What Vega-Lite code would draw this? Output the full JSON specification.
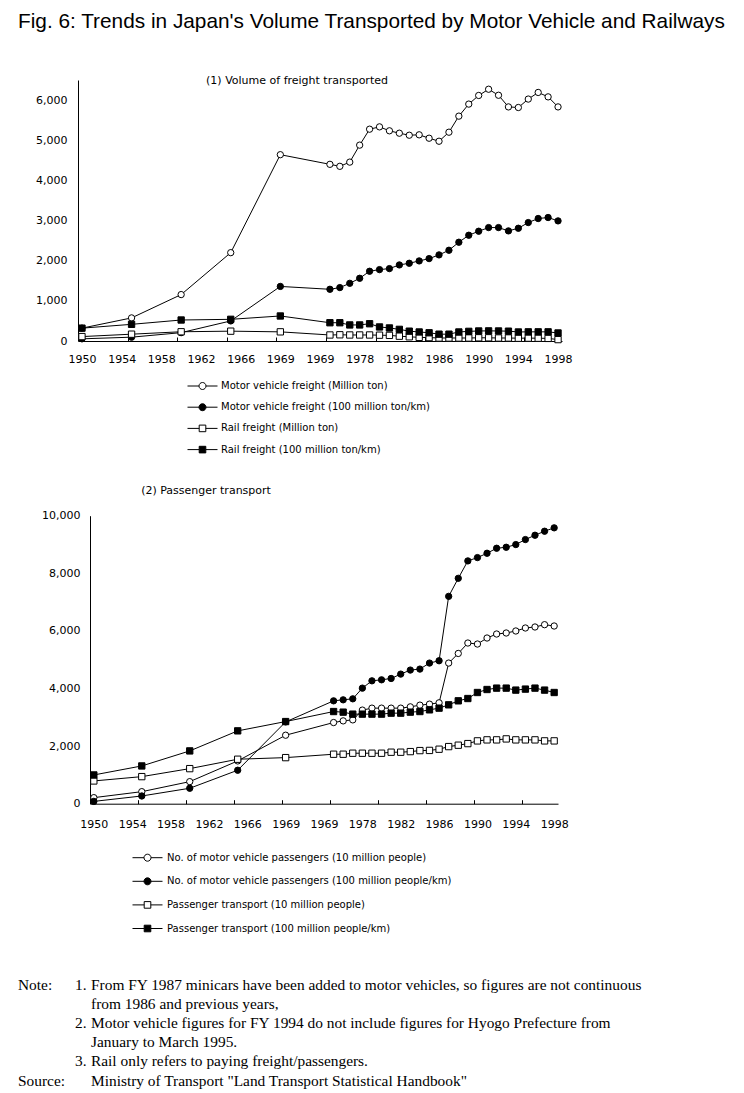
{
  "$schema": "https://vega.github.io/schema/vega-lite/v6.json",
  "padding": {"left": 18, "top": 10, "right": 5, "bottom": 5},
  "background": "white",
  "title": {"text": "Fig. 6: Trends in Japan's Volume Transported by Motor Vehicle and Railways", "anchor": "start", "frame": "bounds", "font": "Liberation Sans", "fontSize": 20.8, "fontWeight": "normal", "color": "black", "offset": 42.3},
  "config": {"view": {"stroke": null}, "font": "DejaVu Sans"},
  "spacing": 29.7,
  "datasets": {
    "freight": [
      {"year": 1950, "series": "Motor vehicle freight (Million ton)", "value": 320},
      {"year": 1955, "series": "Motor vehicle freight (Million ton)", "value": 575},
      {"year": 1960, "series": "Motor vehicle freight (Million ton)", "value": 1156},
      {"year": 1965, "series": "Motor vehicle freight (Million ton)", "value": 2200},
      {"year": 1970, "series": "Motor vehicle freight (Million ton)", "value": 4640},
      {"year": 1975, "series": "Motor vehicle freight (Million ton)", "value": 4400},
      {"year": 1976, "series": "Motor vehicle freight (Million ton)", "value": 4350},
      {"year": 1977, "series": "Motor vehicle freight (Million ton)", "value": 4455},
      {"year": 1978, "series": "Motor vehicle freight (Million ton)", "value": 4878},
      {"year": 1979, "series": "Motor vehicle freight (Million ton)", "value": 5275},
      {"year": 1980, "series": "Motor vehicle freight (Million ton)", "value": 5333},
      {"year": 1981, "series": "Motor vehicle freight (Million ton)", "value": 5235},
      {"year": 1982, "series": "Motor vehicle freight (Million ton)", "value": 5175},
      {"year": 1983, "series": "Motor vehicle freight (Million ton)", "value": 5125},
      {"year": 1984, "series": "Motor vehicle freight (Million ton)", "value": 5135},
      {"year": 1985, "series": "Motor vehicle freight (Million ton)", "value": 5050},
      {"year": 1986, "series": "Motor vehicle freight (Million ton)", "value": 4975},
      {"year": 1987, "series": "Motor vehicle freight (Million ton)", "value": 5200},
      {"year": 1988, "series": "Motor vehicle freight (Million ton)", "value": 5600},
      {"year": 1989, "series": "Motor vehicle freight (Million ton)", "value": 5900},
      {"year": 1990, "series": "Motor vehicle freight (Million ton)", "value": 6115},
      {"year": 1991, "series": "Motor vehicle freight (Million ton)", "value": 6270},
      {"year": 1992, "series": "Motor vehicle freight (Million ton)", "value": 6120},
      {"year": 1993, "series": "Motor vehicle freight (Million ton)", "value": 5830},
      {"year": 1994, "series": "Motor vehicle freight (Million ton)", "value": 5815},
      {"year": 1995, "series": "Motor vehicle freight (Million ton)", "value": 6025},
      {"year": 1996, "series": "Motor vehicle freight (Million ton)", "value": 6190},
      {"year": 1997, "series": "Motor vehicle freight (Million ton)", "value": 6080},
      {"year": 1998, "series": "Motor vehicle freight (Million ton)", "value": 5830},
      {"year": 1950, "series": "Motor vehicle freight (100 million ton/km)", "value": 54},
      {"year": 1955, "series": "Motor vehicle freight (100 million ton/km)", "value": 95},
      {"year": 1960, "series": "Motor vehicle freight (100 million ton/km)", "value": 208},
      {"year": 1965, "series": "Motor vehicle freight (100 million ton/km)", "value": 500},
      {"year": 1970, "series": "Motor vehicle freight (100 million ton/km)", "value": 1359},
      {"year": 1975, "series": "Motor vehicle freight (100 million ton/km)", "value": 1288},
      {"year": 1976, "series": "Motor vehicle freight (100 million ton/km)", "value": 1330},
      {"year": 1977, "series": "Motor vehicle freight (100 million ton/km)", "value": 1437},
      {"year": 1978, "series": "Motor vehicle freight (100 million ton/km)", "value": 1562},
      {"year": 1979, "series": "Motor vehicle freight (100 million ton/km)", "value": 1737},
      {"year": 1980, "series": "Motor vehicle freight (100 million ton/km)", "value": 1778},
      {"year": 1981, "series": "Motor vehicle freight (100 million ton/km)", "value": 1803},
      {"year": 1982, "series": "Motor vehicle freight (100 million ton/km)", "value": 1894},
      {"year": 1983, "series": "Motor vehicle freight (100 million ton/km)", "value": 1936},
      {"year": 1984, "series": "Motor vehicle freight (100 million ton/km)", "value": 1994},
      {"year": 1985, "series": "Motor vehicle freight (100 million ton/km)", "value": 2052},
      {"year": 1986, "series": "Motor vehicle freight (100 million ton/km)", "value": 2144},
      {"year": 1987, "series": "Motor vehicle freight (100 million ton/km)", "value": 2260},
      {"year": 1988, "series": "Motor vehicle freight (100 million ton/km)", "value": 2460},
      {"year": 1989, "series": "Motor vehicle freight (100 million ton/km)", "value": 2634},
      {"year": 1990, "series": "Motor vehicle freight (100 million ton/km)", "value": 2734},
      {"year": 1991, "series": "Motor vehicle freight (100 million ton/km)", "value": 2825},
      {"year": 1992, "series": "Motor vehicle freight (100 million ton/km)", "value": 2825},
      {"year": 1993, "series": "Motor vehicle freight (100 million ton/km)", "value": 2742},
      {"year": 1994, "series": "Motor vehicle freight (100 million ton/km)", "value": 2808},
      {"year": 1995, "series": "Motor vehicle freight (100 million ton/km)", "value": 2950},
      {"year": 1996, "series": "Motor vehicle freight (100 million ton/km)", "value": 3050},
      {"year": 1997, "series": "Motor vehicle freight (100 million ton/km)", "value": 3075},
      {"year": 1998, "series": "Motor vehicle freight (100 million ton/km)", "value": 2991},
      {"year": 1950, "series": "Rail freight (Million ton)", "value": 110},
      {"year": 1955, "series": "Rail freight (Million ton)", "value": 170},
      {"year": 1960, "series": "Rail freight (Million ton)", "value": 230},
      {"year": 1965, "series": "Rail freight (Million ton)", "value": 245},
      {"year": 1970, "series": "Rail freight (Million ton)", "value": 228},
      {"year": 1975, "series": "Rail freight (Million ton)", "value": 150},
      {"year": 1976, "series": "Rail freight (Million ton)", "value": 155},
      {"year": 1977, "series": "Rail freight (Million ton)", "value": 150},
      {"year": 1978, "series": "Rail freight (Million ton)", "value": 150},
      {"year": 1979, "series": "Rail freight (Million ton)", "value": 150},
      {"year": 1980, "series": "Rail freight (Million ton)", "value": 145},
      {"year": 1981, "series": "Rail freight (Million ton)", "value": 140},
      {"year": 1982, "series": "Rail freight (Million ton)", "value": 120},
      {"year": 1983, "series": "Rail freight (Million ton)", "value": 105},
      {"year": 1984, "series": "Rail freight (Million ton)", "value": 90},
      {"year": 1985, "series": "Rail freight (Million ton)", "value": 85},
      {"year": 1986, "series": "Rail freight (Million ton)", "value": 75},
      {"year": 1987, "series": "Rail freight (Million ton)", "value": 75},
      {"year": 1988, "series": "Rail freight (Million ton)", "value": 75},
      {"year": 1989, "series": "Rail freight (Million ton)", "value": 75},
      {"year": 1990, "series": "Rail freight (Million ton)", "value": 80},
      {"year": 1991, "series": "Rail freight (Million ton)", "value": 80},
      {"year": 1992, "series": "Rail freight (Million ton)", "value": 75},
      {"year": 1993, "series": "Rail freight (Million ton)", "value": 75},
      {"year": 1994, "series": "Rail freight (Million ton)", "value": 70},
      {"year": 1995, "series": "Rail freight (Million ton)", "value": 72},
      {"year": 1996, "series": "Rail freight (Million ton)", "value": 70},
      {"year": 1997, "series": "Rail freight (Million ton)", "value": 65},
      {"year": 1998, "series": "Rail freight (Million ton)", "value": 35},
      {"year": 1950, "series": "Rail freight (100 million ton/km)", "value": 320},
      {"year": 1955, "series": "Rail freight (100 million ton/km)", "value": 415},
      {"year": 1960, "series": "Rail freight (100 million ton/km)", "value": 523},
      {"year": 1965, "series": "Rail freight (100 million ton/km)", "value": 540},
      {"year": 1970, "series": "Rail freight (100 million ton/km)", "value": 623},
      {"year": 1975, "series": "Rail freight (100 million ton/km)", "value": 455},
      {"year": 1976, "series": "Rail freight (100 million ton/km)", "value": 455},
      {"year": 1977, "series": "Rail freight (100 million ton/km)", "value": 400},
      {"year": 1978, "series": "Rail freight (100 million ton/km)", "value": 400},
      {"year": 1979, "series": "Rail freight (100 million ton/km)", "value": 430},
      {"year": 1980, "series": "Rail freight (100 million ton/km)", "value": 350},
      {"year": 1981, "series": "Rail freight (100 million ton/km)", "value": 325},
      {"year": 1982, "series": "Rail freight (100 million ton/km)", "value": 290},
      {"year": 1983, "series": "Rail freight (100 million ton/km)", "value": 245},
      {"year": 1984, "series": "Rail freight (100 million ton/km)", "value": 225},
      {"year": 1985, "series": "Rail freight (100 million ton/km)", "value": 205},
      {"year": 1986, "series": "Rail freight (100 million ton/km)", "value": 170},
      {"year": 1987, "series": "Rail freight (100 million ton/km)", "value": 170},
      {"year": 1988, "series": "Rail freight (100 million ton/km)", "value": 225},
      {"year": 1989, "series": "Rail freight (100 million ton/km)", "value": 240},
      {"year": 1990, "series": "Rail freight (100 million ton/km)", "value": 250},
      {"year": 1991, "series": "Rail freight (100 million ton/km)", "value": 252},
      {"year": 1992, "series": "Rail freight (100 million ton/km)", "value": 250},
      {"year": 1993, "series": "Rail freight (100 million ton/km)", "value": 245},
      {"year": 1994, "series": "Rail freight (100 million ton/km)", "value": 225},
      {"year": 1995, "series": "Rail freight (100 million ton/km)", "value": 228},
      {"year": 1996, "series": "Rail freight (100 million ton/km)", "value": 228},
      {"year": 1997, "series": "Rail freight (100 million ton/km)", "value": 228},
      {"year": 1998, "series": "Rail freight (100 million ton/km)", "value": 200}
    ],
    "passenger": [
      {"year": 1950, "series": "No. of motor vehicle passengers (10 million people)", "value": 210},
      {"year": 1955, "series": "No. of motor vehicle passengers (10 million people)", "value": 418},
      {"year": 1960, "series": "No. of motor vehicle passengers (10 million people)", "value": 766},
      {"year": 1965, "series": "No. of motor vehicle passengers (10 million people)", "value": 1485},
      {"year": 1970, "series": "No. of motor vehicle passengers (10 million people)", "value": 2378},
      {"year": 1975, "series": "No. of motor vehicle passengers (10 million people)", "value": 2818},
      {"year": 1976, "series": "No. of motor vehicle passengers (10 million people)", "value": 2876},
      {"year": 1977, "series": "No. of motor vehicle passengers (10 million people)", "value": 2911},
      {"year": 1978, "series": "No. of motor vehicle passengers (10 million people)", "value": 3250},
      {"year": 1979, "series": "No. of motor vehicle passengers (10 million people)", "value": 3318},
      {"year": 1980, "series": "No. of motor vehicle passengers (10 million people)", "value": 3318},
      {"year": 1981, "series": "No. of motor vehicle passengers (10 million people)", "value": 3318},
      {"year": 1982, "series": "No. of motor vehicle passengers (10 million people)", "value": 3318},
      {"year": 1983, "series": "No. of motor vehicle passengers (10 million people)", "value": 3363},
      {"year": 1984, "series": "No. of motor vehicle passengers (10 million people)", "value": 3422},
      {"year": 1985, "series": "No. of motor vehicle passengers (10 million people)", "value": 3457},
      {"year": 1986, "series": "No. of motor vehicle passengers (10 million people)", "value": 3503},
      {"year": 1987, "series": "No. of motor vehicle passengers (10 million people)", "value": 4883},
      {"year": 1988, "series": "No. of motor vehicle passengers (10 million people)", "value": 5217},
      {"year": 1989, "series": "No. of motor vehicle passengers (10 million people)", "value": 5579},
      {"year": 1990, "series": "No. of motor vehicle passengers (10 million people)", "value": 5544},
      {"year": 1991, "series": "No. of motor vehicle passengers (10 million people)", "value": 5753},
      {"year": 1992, "series": "No. of motor vehicle passengers (10 million people)", "value": 5892},
      {"year": 1993, "series": "No. of motor vehicle passengers (10 million people)", "value": 5927},
      {"year": 1994, "series": "No. of motor vehicle passengers (10 million people)", "value": 5997},
      {"year": 1995, "series": "No. of motor vehicle passengers (10 million people)", "value": 6101},
      {"year": 1996, "series": "No. of motor vehicle passengers (10 million people)", "value": 6136},
      {"year": 1997, "series": "No. of motor vehicle passengers (10 million people)", "value": 6216},
      {"year": 1998, "series": "No. of motor vehicle passengers (10 million people)", "value": 6170},
      {"year": 1950, "series": "No. of motor vehicle passengers (100 million people/km)", "value": 80},
      {"year": 1955, "series": "No. of motor vehicle passengers (100 million people/km)", "value": 268},
      {"year": 1960, "series": "No. of motor vehicle passengers (100 million people/km)", "value": 536},
      {"year": 1965, "series": "No. of motor vehicle passengers (100 million people/km)", "value": 1162},
      {"year": 1970, "series": "No. of motor vehicle passengers (100 million people/km)", "value": 2840},
      {"year": 1975, "series": "No. of motor vehicle passengers (100 million people/km)", "value": 3572},
      {"year": 1976, "series": "No. of motor vehicle passengers (100 million people/km)", "value": 3607},
      {"year": 1977, "series": "No. of motor vehicle passengers (100 million people/km)", "value": 3642},
      {"year": 1978, "series": "No. of motor vehicle passengers (100 million people/km)", "value": 4013},
      {"year": 1979, "series": "No. of motor vehicle passengers (100 million people/km)", "value": 4267},
      {"year": 1980, "series": "No. of motor vehicle passengers (100 million people/km)", "value": 4302},
      {"year": 1981, "series": "No. of motor vehicle passengers (100 million people/km)", "value": 4348},
      {"year": 1982, "series": "No. of motor vehicle passengers (100 million people/km)", "value": 4500},
      {"year": 1983, "series": "No. of motor vehicle passengers (100 million people/km)", "value": 4640},
      {"year": 1984, "series": "No. of motor vehicle passengers (100 million people/km)", "value": 4674},
      {"year": 1985, "series": "No. of motor vehicle passengers (100 million people/km)", "value": 4883},
      {"year": 1986, "series": "No. of motor vehicle passengers (100 million people/km)", "value": 4963},
      {"year": 1987, "series": "No. of motor vehicle passengers (100 million people/km)", "value": 7200},
      {"year": 1988, "series": "No. of motor vehicle passengers (100 million people/km)", "value": 7826},
      {"year": 1989, "series": "No. of motor vehicle passengers (100 million people/km)", "value": 8430},
      {"year": 1990, "series": "No. of motor vehicle passengers (100 million people/km)", "value": 8546},
      {"year": 1991, "series": "No. of motor vehicle passengers (100 million people/km)", "value": 8696},
      {"year": 1992, "series": "No. of motor vehicle passengers (100 million people/km)", "value": 8870},
      {"year": 1993, "series": "No. of motor vehicle passengers (100 million people/km)", "value": 8904},
      {"year": 1994, "series": "No. of motor vehicle passengers (100 million people/km)", "value": 8998},
      {"year": 1995, "series": "No. of motor vehicle passengers (100 million people/km)", "value": 9172},
      {"year": 1996, "series": "No. of motor vehicle passengers (100 million people/km)", "value": 9322},
      {"year": 1997, "series": "No. of motor vehicle passengers (100 million people/km)", "value": 9461},
      {"year": 1998, "series": "No. of motor vehicle passengers (100 million people/km)", "value": 9579},
      {"year": 1950, "series": "Passenger transport (10 million people)", "value": 790},
      {"year": 1955, "series": "Passenger transport (10 million people)", "value": 940},
      {"year": 1960, "series": "Passenger transport (10 million people)", "value": 1218},
      {"year": 1965, "series": "Passenger transport (10 million people)", "value": 1544},
      {"year": 1970, "series": "Passenger transport (10 million people)", "value": 1600},
      {"year": 1975, "series": "Passenger transport (10 million people)", "value": 1718},
      {"year": 1976, "series": "Passenger transport (10 million people)", "value": 1718},
      {"year": 1977, "series": "Passenger transport (10 million people)", "value": 1753},
      {"year": 1978, "series": "Passenger transport (10 million people)", "value": 1753},
      {"year": 1979, "series": "Passenger transport (10 million people)", "value": 1753},
      {"year": 1980, "series": "Passenger transport (10 million people)", "value": 1753},
      {"year": 1981, "series": "Passenger transport (10 million people)", "value": 1788},
      {"year": 1982, "series": "Passenger transport (10 million people)", "value": 1788},
      {"year": 1983, "series": "Passenger transport (10 million people)", "value": 1809},
      {"year": 1984, "series": "Passenger transport (10 million people)", "value": 1844},
      {"year": 1985, "series": "Passenger transport (10 million people)", "value": 1850},
      {"year": 1986, "series": "Passenger transport (10 million people)", "value": 1892},
      {"year": 1987, "series": "Passenger transport (10 million people)", "value": 1983},
      {"year": 1988, "series": "Passenger transport (10 million people)", "value": 2031},
      {"year": 1989, "series": "Passenger transport (10 million people)", "value": 2087},
      {"year": 1990, "series": "Passenger transport (10 million people)", "value": 2181},
      {"year": 1991, "series": "Passenger transport (10 million people)", "value": 2216},
      {"year": 1992, "series": "Passenger transport (10 million people)", "value": 2216},
      {"year": 1993, "series": "Passenger transport (10 million people)", "value": 2250},
      {"year": 1994, "series": "Passenger transport (10 million people)", "value": 2216},
      {"year": 1995, "series": "Passenger transport (10 million people)", "value": 2216},
      {"year": 1996, "series": "Passenger transport (10 million people)", "value": 2216},
      {"year": 1997, "series": "Passenger transport (10 million people)", "value": 2181},
      {"year": 1998, "series": "Passenger transport (10 million people)", "value": 2181},
      {"year": 1950, "series": "Passenger transport (100 million people/km)", "value": 998},
      {"year": 1955, "series": "Passenger transport (100 million people/km)", "value": 1311},
      {"year": 1960, "series": "Passenger transport (100 million people/km)", "value": 1833},
      {"year": 1965, "series": "Passenger transport (100 million people/km)", "value": 2529},
      {"year": 1970, "series": "Passenger transport (100 million people/km)", "value": 2852},
      {"year": 1975, "series": "Passenger transport (100 million people/km)", "value": 3200},
      {"year": 1976, "series": "Passenger transport (100 million people/km)", "value": 3179},
      {"year": 1977, "series": "Passenger transport (100 million people/km)", "value": 3110},
      {"year": 1978, "series": "Passenger transport (100 million people/km)", "value": 3110},
      {"year": 1979, "series": "Passenger transport (100 million people/km)", "value": 3110},
      {"year": 1980, "series": "Passenger transport (100 million people/km)", "value": 3110},
      {"year": 1981, "series": "Passenger transport (100 million people/km)", "value": 3144},
      {"year": 1982, "series": "Passenger transport (100 million people/km)", "value": 3144},
      {"year": 1983, "series": "Passenger transport (100 million people/km)", "value": 3179},
      {"year": 1984, "series": "Passenger transport (100 million people/km)", "value": 3200},
      {"year": 1985, "series": "Passenger transport (100 million people/km)", "value": 3259},
      {"year": 1986, "series": "Passenger transport (100 million people/km)", "value": 3318},
      {"year": 1987, "series": "Passenger transport (100 million people/km)", "value": 3433},
      {"year": 1988, "series": "Passenger transport (100 million people/km)", "value": 3572},
      {"year": 1989, "series": "Passenger transport (100 million people/km)", "value": 3652},
      {"year": 1990, "series": "Passenger transport (100 million people/km)", "value": 3861},
      {"year": 1991, "series": "Passenger transport (100 million people/km)", "value": 3965},
      {"year": 1992, "series": "Passenger transport (100 million people/km)", "value": 4013},
      {"year": 1993, "series": "Passenger transport (100 million people/km)", "value": 4013},
      {"year": 1994, "series": "Passenger transport (100 million people/km)", "value": 3944},
      {"year": 1995, "series": "Passenger transport (100 million people/km)", "value": 3979},
      {"year": 1996, "series": "Passenger transport (100 million people/km)", "value": 4013},
      {"year": 1997, "series": "Passenger transport (100 million people/km)", "value": 3944},
      {"year": 1998, "series": "Passenger transport (100 million people/km)", "value": 3861}
    ],
    "notes": [
      {"line": 1, "level": 0, "text": "Note:"},
      {"line": 1, "level": 1, "text": "1."},
      {"line": 1, "level": 2, "text": "From FY 1987 minicars have been added to motor vehicles, so figures are not continuous"},
      {"line": 2, "level": 2, "text": "from 1986 and previous years,"},
      {"line": 3, "level": 1, "text": "2."},
      {"line": 3, "level": 2, "text": "Motor vehicle figures for FY 1994 do not include figures for Hyogo Prefecture from"},
      {"line": 4, "level": 2, "text": "January to March 1995."},
      {"line": 5, "level": 1, "text": "3."},
      {"line": 5, "level": 2, "text": "Rail only refers to paying freight/passengers."},
      {"line": 6, "level": 0, "text": "Source:"},
      {"line": 6, "level": 2, "text": "Ministry of Transport \"Land Transport Statistical Handbook\""}
    ]
  },
  "vconcat": [
    {
      "width": 484,
      "height": 261,
      "data": {"name": "freight"},
      "title": {"text": "(1) Volume of freight transported", "anchor": "middle", "dx": -23, "offset": -6, "font": "DejaVu Sans", "fontSize": 11, "fontWeight": "normal", "color": "black"},
      "encoding": {
        "x": {
          "field": "year", "type": "quantitative",
          "scale": {"domain": [1949.6, 1998.4], "nice": false, "zero": false},
          "axis": {
            "title": null, "grid": false,
            "values": [1950, 1954, 1958, 1962, 1966, 1970, 1974, 1978, 1982, 1986, 1990, 1994, 1998, 1954.6, 1959.6, 1964.6, 1969.6, 1974.6, 1979.6, 1984.6, 1989.6, 1994.6],
            "labelExpr": "datum.value % 1 === 0 ? ((datum.value === 1970 || datum.value === 1974) ? '1969' : '' + datum.value) : ''",
            "tickOpacity": {"condition": {"test": "datum.value % 1 === 0", "value": 0}, "value": 1},
            "tickSize": -4, "tickColor": "black", "domainColor": "black",
            "labelFlush": false, "labelOverlap": false, "labelPadding": 16,
            "labelFont": "DejaVu Sans", "labelFontSize": 11, "labelColor": "black"
          }
        },
        "y": {
          "field": "value", "type": "quantitative",
          "scale": {"domain": [0, 6500], "nice": false},
          "axis": {"values": [0, 1000, 2000, 3000, 4000, 5000, 6000], "format": ",.0f", "ticks": false, "grid": false, "title": null, "domainColor": "black", "labelPadding": 11, "labelFont": "DejaVu Sans", "labelFontSize": 11, "labelColor": "black"}
        }
      },
      "layer": [
        {"mark": {"type": "line", "color": "black", "strokeWidth": 1}, "encoding": {"detail": {"field": "series"}}},
        {
          "mark": {"type": "point", "filled": true, "size": 40, "stroke": "black", "strokeWidth": 1, "opacity": 1},
          "encoding": {
            "shape": {"field": "series", "type": "nominal", "scale": {"domain": ["Motor vehicle freight (Million ton)", "Motor vehicle freight (100 million ton/km)", "Rail freight (Million ton)", "Rail freight (100 million ton/km)"], "range": ["circle", "circle", "square", "square"]}, "legend": null},
            "fill": {"field": "series", "type": "nominal", "scale": {"domain": ["Motor vehicle freight (Million ton)", "Motor vehicle freight (100 million ton/km)", "Rail freight (Million ton)", "Rail freight (100 million ton/km)"], "range": ["white", "black", "white", "black"]}, "legend": null}
          }
        },
        {
          "mark": {"type": "point", "filled": true, "size": 64, "stroke": "black", "strokeWidth": 1, "opacity": 0},
          "encoding": {
            "shape": {
              "field": "series", "type": "nominal",
              "scale": {"domain": ["Motor vehicle freight (Million ton)", "Motor vehicle freight (100 million ton/km)", "Rail freight (Million ton)", "Rail freight (100 million ton/km)"], "range": ["M-3.75,0H-0.875M0.875,0H3.75M0.875,0A0.875,0.875,0,1,1,-0.875,0A0.875,0.875,0,1,1,0.875,0Z", "M-3.75,0H-0.875M0.875,0H3.75M0.875,0A0.875,0.875,0,1,1,-0.875,0A0.875,0.875,0,1,1,0.875,0Z", "M-3.75,0H-0.825M0.825,0H3.75M-0.825,-0.825H0.825V0.825H-0.825Z", "M-3.75,0H-0.825M0.825,0H3.75M-0.825,-0.825H0.825V0.825H-0.825Z"]},
              "legend": {"title": null, "orient": "none", "legendX": 119.5, "legendY": 301, "symbolSize": 64, "symbolOpacity": 1, "symbolStrokeWidth": 1, "labelFont": "DejaVu Sans", "labelFontSize": 10, "labelColor": "black", "labelOffset": 13.5, "rowPadding": 9.2, "labelLimit": 0}
            },
            "fill": {
              "field": "series", "type": "nominal",
              "scale": {"domain": ["Motor vehicle freight (Million ton)", "Motor vehicle freight (100 million ton/km)", "Rail freight (Million ton)", "Rail freight (100 million ton/km)"], "range": ["white", "black", "white", "black"]},
              "legend": {"title": null, "orient": "none", "legendX": 119.5, "legendY": 301, "symbolSize": 64, "symbolOpacity": 1, "symbolStrokeWidth": 1, "labelFont": "DejaVu Sans", "labelFontSize": 10, "labelColor": "black", "labelOffset": 13.5, "rowPadding": 9.2, "labelLimit": 0}
            }
          }
        }
      ],
      "resolve": {"scale": {"shape": "independent", "fill": "independent"}}
    },
    {
      "width": 480,
      "height": 288,
      "data": {"name": "passenger"},
      "title": {"text": "(2) Passenger transport", "anchor": "middle", "dx": -112, "offset": 14, "font": "DejaVu Sans", "fontSize": 11, "fontWeight": "normal", "color": "black"},
      "encoding": {
        "x": {
          "field": "year", "type": "quantitative",
          "scale": {"domain": [1949.6, 1998.4], "range": [12, 480], "nice": false, "zero": false},
          "axis": {
            "title": null, "grid": false,
            "values": [1950, 1954, 1958, 1962, 1966, 1970, 1974, 1978, 1982, 1986, 1990, 1994, 1998, 1954.6, 1959.6, 1964.6, 1969.6, 1974.6, 1979.6, 1984.6, 1989.6, 1994.6],
            "labelExpr": "datum.value % 1 === 0 ? ((datum.value === 1970 || datum.value === 1974) ? '1969' : '' + datum.value) : ''",
            "tickOpacity": {"condition": {"test": "datum.value % 1 === 0", "value": 0}, "value": 1},
            "tickSize": -4, "tickColor": "black", "domainColor": "black",
            "labelFlush": false, "labelOverlap": false, "labelPadding": 19,
            "labelFont": "DejaVu Sans", "labelFontSize": 11, "labelColor": "black"
          }
        },
        "y": {
          "field": "value", "type": "quantitative",
          "scale": {"domain": [0, 10000], "nice": false},
          "axis": {"values": [0, 2000, 4000, 6000, 8000, 10000], "format": ",.0f", "ticks": false, "grid": false, "title": null, "offset": -12, "domainColor": "black", "labelPadding": 10, "labelFont": "DejaVu Sans", "labelFontSize": 11, "labelColor": "black"}
        }
      },
      "layer": [
        {"mark": {"type": "line", "color": "black", "strokeWidth": 1}, "encoding": {"detail": {"field": "series"}}},
        {
          "mark": {"type": "point", "filled": true, "size": 40, "stroke": "black", "strokeWidth": 1, "opacity": 1},
          "encoding": {
            "shape": {"field": "series", "type": "nominal", "scale": {"domain": ["No. of motor vehicle passengers (10 million people)", "No. of motor vehicle passengers (100 million people/km)", "Passenger transport (10 million people)", "Passenger transport (100 million people/km)"], "range": ["circle", "circle", "square", "square"]}, "legend": null},
            "fill": {"field": "series", "type": "nominal", "scale": {"domain": ["No. of motor vehicle passengers (10 million people)", "No. of motor vehicle passengers (100 million people/km)", "Passenger transport (10 million people)", "Passenger transport (100 million people/km)"], "range": ["white", "black", "white", "black"]}, "legend": null}
          }
        },
        {
          "mark": {"type": "point", "filled": true, "size": 64, "stroke": "black", "strokeWidth": 1, "opacity": 0},
          "encoding": {
            "shape": {
              "field": "series", "type": "nominal",
              "scale": {"domain": ["No. of motor vehicle passengers (10 million people)", "No. of motor vehicle passengers (100 million people/km)", "Passenger transport (10 million people)", "Passenger transport (100 million people/km)"], "range": ["M-3.75,0H-0.875M0.875,0H3.75M0.875,0A0.875,0.875,0,1,1,-0.875,0A0.875,0.875,0,1,1,0.875,0Z", "M-3.75,0H-0.875M0.875,0H3.75M0.875,0A0.875,0.875,0,1,1,-0.875,0A0.875,0.875,0,1,1,0.875,0Z", "M-3.75,0H-0.825M0.825,0H3.75M-0.825,-0.825H0.825V0.825H-0.825Z", "M-3.75,0H-0.825M0.825,0H3.75M-0.825,-0.825H0.825V0.825H-0.825Z"]},
              "legend": {"title": null, "orient": "none", "legendX": 64.5, "legendY": 337, "symbolSize": 64, "symbolOpacity": 1, "symbolStrokeWidth": 1, "labelFont": "DejaVu Sans", "labelFontSize": 10, "labelColor": "black", "labelOffset": 14.5, "rowPadding": 11.6, "labelLimit": 0}
            },
            "fill": {
              "field": "series", "type": "nominal",
              "scale": {"domain": ["No. of motor vehicle passengers (10 million people)", "No. of motor vehicle passengers (100 million people/km)", "Passenger transport (10 million people)", "Passenger transport (100 million people/km)"], "range": ["white", "black", "white", "black"]},
              "legend": {"title": null, "orient": "none", "legendX": 64.5, "legendY": 337, "symbolSize": 64, "symbolOpacity": 1, "symbolStrokeWidth": 1, "labelFont": "DejaVu Sans", "labelFontSize": 10, "labelColor": "black", "labelOffset": 14.5, "rowPadding": 11.6, "labelLimit": 0}
            }
          }
        }
      ],
      "resolve": {"scale": {"shape": "independent", "fill": "independent"}}
    },
    {
      "width": 480,
      "height": 116.3,
      "data": {"name": "notes"},
      "mark": {"type": "text", "align": "left", "baseline": "middle", "font": "Liberation Serif", "fontSize": 15.4, "color": "black"},
      "encoding": {
        "x": {"field": "level", "type": "quantitative", "scale": {"domain": [0, 1, 2], "range": [-60, -3, 13]}, "axis": null},
        "y": {"field": "line", "type": "quantitative", "scale": {"domain": [-0.057, 6], "reverse": true, "nice": false, "zero": false}, "axis": null},
        "text": {"field": "text"}
      }
    }
  ]
}
